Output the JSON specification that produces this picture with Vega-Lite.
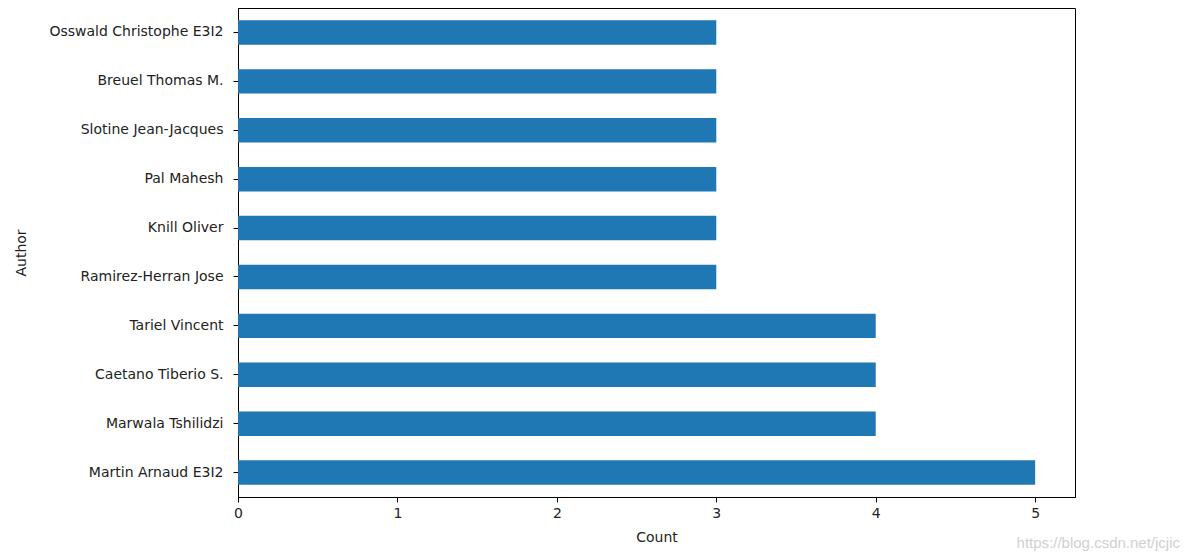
{
  "$schema": "https://vega.github.io/schema/vega-lite/v6.json",
  "width": 837,
  "height": 489,
  "autosize": {"type": "none"},
  "padding": {"left": 238, "top": 8, "right": 116, "bottom": 60},
  "background": "white",
  "config": {
    "font": "DejaVu Sans",
    "view": {"stroke": "#000000", "strokeWidth": 1},
    "axis": {
      "labelFont": "DejaVu Sans",
      "titleFont": "DejaVu Sans",
      "labelFontSize": 14,
      "titleFontSize": 14,
      "labelColor": "#222222",
      "titleColor": "#222222",
      "titleFontWeight": "normal",
      "tickColor": "#000000",
      "domainColor": "#000000",
      "tickSize": 5,
      "grid": false
    }
  },
  "title": {
    "text": "https://blog.csdn.net/jcjic",
    "orient": "bottom",
    "anchor": "end",
    "font": "Liberation Sans",
    "fontSize": 15,
    "fontWeight": "normal",
    "color": "#d0d0d0",
    "offset": -8,
    "dx": 105
  },
  "data": {
    "values": [
      {"Author": "Osswald Christophe  E3I2", "Count": 3},
      {"Author": "Breuel Thomas M.", "Count": 3},
      {"Author": "Slotine Jean-Jacques", "Count": 3},
      {"Author": "Pal Mahesh", "Count": 3},
      {"Author": "Knill Oliver", "Count": 3},
      {"Author": "Ramirez-Herran Jose", "Count": 3},
      {"Author": "Tariel Vincent", "Count": 4},
      {"Author": "Caetano Tiberio S.", "Count": 4},
      {"Author": "Marwala Tshilidzi", "Count": 4},
      {"Author": "Martin Arnaud  E3I2", "Count": 5}
    ]
  },
  "mark": {"type": "bar", "color": "#1f77b4"},
  "encoding": {
    "y": {
      "field": "Author",
      "type": "nominal",
      "sort": null,
      "scale": {"paddingInner": 0.5, "paddingOuter": 0.25},
      "axis": {"title": "Author", "labelPadding": 10, "titlePadding": 16}
    },
    "x": {
      "field": "Count",
      "type": "quantitative",
      "scale": {"domain": [0, 5.25], "nice": false, "zero": true},
      "axis": {"title": "Count", "values": [0, 1, 2, 3, 4, 5], "format": "d", "labelFlush": false, "labelPadding": 4, "titlePadding": 10}
    }
  }
}
